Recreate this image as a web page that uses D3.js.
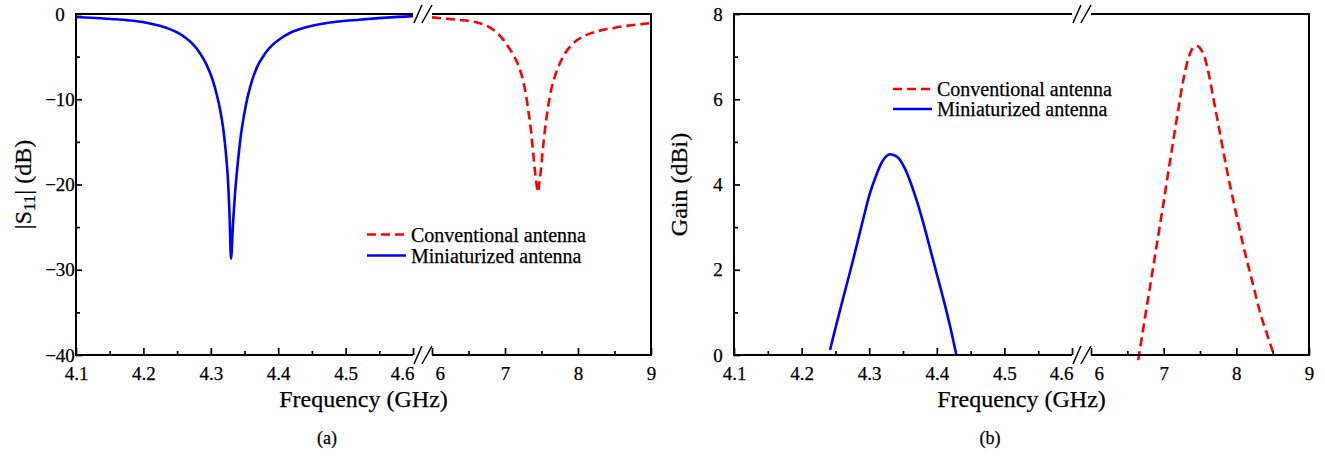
<!DOCTYPE html>
<html>
<head>
<meta charset="utf-8">
<script src="https://cdn.jsdelivr.net/npm/d3@7"></script>
<style>
  html, body { margin: 0; padding: 0; background: #fff; }
  svg { display: block; font-family: "Liberation Serif", "Times New Roman", serif; }
  text { fill: #000; stroke: #000; stroke-width: 0.25px; }
</style>
</head>
<body>
<svg id="chart" width="1325" height="457"></svg>
<script>
// ---------- Data ----------
// Panel (a): |S11| (dB)
const s11MiniFreq = [4.10, 4.136, 4.16, 4.185, 4.21, 4.235, 4.25, 4.262, 4.273, 4.284, 4.294, 4.303, 4.309, 4.314, 4.318, 4.321, 4.324, 4.326, 4.328, 4.330, 4.333, 4.336, 4.340, 4.344, 4.349, 4.355, 4.362, 4.370, 4.380, 4.390, 4.403, 4.418, 4.435, 4.452, 4.477, 4.50, 4.53, 4.56, 4.60];
const s11MiniVal  = [-0.35, -0.5, -0.62, -0.8, -1.12, -1.65, -2.15, -2.75, -3.5, -4.6, -6.0, -7.8, -9.5, -11.3, -13.2, -15.2, -17.8, -20.2, -24.0, -28.7, -24.5, -21.0, -17.5, -14.6, -12.0, -9.6, -7.6, -6.0, -4.7, -3.75, -2.9, -2.2, -1.7, -1.35, -1.0, -0.8, -0.6, -0.42, -0.25];

const s11ConvFreq = [6.0, 6.2, 6.38, 6.55, 6.66, 6.76, 6.84, 6.92, 6.97, 7.02, 7.08, 7.14, 7.2, 7.25, 7.29, 7.32, 7.35, 7.37, 7.39, 7.41, 7.43, 7.45, 7.47, 7.49, 7.51, 7.53, 7.56, 7.59, 7.63, 7.68, 7.74, 7.80, 7.88, 7.96, 8.06, 8.16, 8.3, 8.45, 8.58, 8.8, 9.0];
const s11ConvVal  = [-0.4, -0.55, -0.7, -0.88, -1.1, -1.42, -1.85, -2.45, -2.95, -3.55, -4.3, -5.2, -6.4, -7.9, -9.6, -11.4, -13.2, -14.9, -16.6, -18.4, -19.8, -20.9, -19.8, -18.4, -16.6, -14.9, -12.7, -10.9, -9.0, -7.4, -6.0, -4.95, -3.95, -3.25, -2.7, -2.3, -1.95, -1.7, -1.5, -1.25, -1.05];

// Panel (b): Gain (dBi)
const gainMiniFreq = [4.242, 4.252, 4.262, 4.272, 4.281, 4.291, 4.301, 4.31, 4.318, 4.325, 4.331, 4.336, 4.341, 4.346, 4.35, 4.355, 4.36, 4.37, 4.38, 4.39, 4.40, 4.41, 4.42, 4.429];
const gainMiniVal  = [0.12, 0.75, 1.37, 1.97, 2.54, 3.18, 3.79, 4.2, 4.5, 4.66, 4.71, 4.69, 4.65, 4.57, 4.46, 4.3, 4.1, 3.64, 3.1, 2.5, 1.9, 1.3, 0.65, 0.0];

const gainConvFreq = [6.65, 6.75, 6.857, 6.93, 6.995, 7.06, 7.13, 7.2, 7.27, 7.33, 7.385, 7.42, 7.455, 7.49, 7.53, 7.57, 7.62, 7.68, 7.77, 7.87, 7.98, 8.1, 8.22, 8.33, 8.42, 8.51];
const gainConvVal  = [-0.12, 0.95, 2.07, 2.85, 3.54, 4.25, 5.0, 5.75, 6.45, 6.9, 7.16, 7.23, 7.25, 7.22, 7.12, 6.95, 6.6, 6.06, 5.25, 4.34, 3.45, 2.54, 1.72, 0.98, 0.5, 0.04];

// Ticks
const xMajorLow  = [4.1, 4.2, 4.3, 4.4, 4.5, 4.6];
const xMinorLow  = [4.15, 4.25, 4.35, 4.45, 4.55];
const xMajorHigh = [6, 7, 8, 9];
const xMinorHigh = [6.5, 7.5, 8.5];
const yMajorS11  = [-40, -30, -20, -10, 0];
const yMinorS11  = [-35, -25, -15, -5];
const yMajorGain = [0, 2, 4, 6, 8];
const yMinorGain = [1, 3, 5, 7];

const seriesNames = ["Conventional antenna", "Miniaturized antenna"];
const seriesColors = ["#ff0000", "#0000ff"];

// ---------- Drawing ----------
const svg = d3.select("#chart");

function zip(a, b) { return a.map((v, i) => [v, b[i]]); }

function drawPanel(cfg) {
  const g = svg.append("g");
  const xL = d3.scaleLinear().domain([4.1, 4.6]).range([cfg.left, cfg.breakL]);
  const xR = d3.scaleLinear().domain([6, 9]).range([cfg.breakR, cfg.right]);
  const y = d3.scaleLinear().domain(cfg.yDomain).range([cfg.bottom, cfg.top]);

  // data lines
  const lineL = d3.line().curve(d3.curveMonotoneX).x(d => xL(d[0])).y(d => y(d[1]));
  const lineR = d3.line().curve(d3.curveMonotoneX).x(d => xR(d[0])).y(d => y(d[1]));
  g.append("path").datum(zip(cfg.convF, cfg.convV)).attr("d", lineR)
    .attr("fill", "none").attr("stroke", seriesColors[0]).attr("stroke-width", 2.6)
    .attr("stroke-dasharray", "9,5");
  g.append("path").datum(zip(cfg.miniF, cfg.miniV)).attr("d", lineL)
    .attr("fill", "none").attr("stroke", seriesColors[1]).attr("stroke-width", 2.6);

  // frame
  const fr = g.append("g").attr("stroke", "#000").attr("stroke-width", 2).attr("fill", "none");
  const xa = xL(4.6), xb = xR(6);
  fr.append("line").attr("x1", cfg.left).attr("x2", cfg.left).attr("y1", cfg.top - 1).attr("y2", cfg.bottom + 1);
  fr.append("line").attr("x1", cfg.right).attr("x2", cfg.right).attr("y1", cfg.top - 1).attr("y2", cfg.bottom + 1);
  [cfg.top, cfg.bottom].forEach(yy => {
    fr.append("line").attr("x1", cfg.left).attr("x2", xa).attr("y1", yy).attr("y2", yy);
    fr.append("line").attr("x1", xb).attr("x2", cfg.right).attr("y1", yy).attr("y2", yy);
    // break marks
    const w = (xb - xa);
    fr.append("line").attr("stroke-width", 1.5)
      .attr("x1", xa + 1).attr("y1", yy + 9).attr("x2", xa + w * 0.47).attr("y2", yy - 9);
    fr.append("line").attr("stroke-width", 1.5)
      .attr("x1", xa + w * 0.47).attr("y1", yy + 9).attr("x2", xb).attr("y2", yy - 9);
  });

  // x axes
  function xAxis(scale, major, minor) {
    const ga = g.append("g").attr("transform", `translate(0,${cfg.bottom})`)
      .call(d3.axisBottom(scale).tickValues(major).tickSize(-7).tickPadding(12)
        .tickFormat(d => Number.isInteger(d) && d >= 5 ? d3.format("d")(d) : d3.format(".1f")(d)));
    ga.select(".domain").remove();
    const gm = g.append("g").attr("transform", `translate(0,${cfg.bottom})`)
      .call(d3.axisBottom(scale).tickValues(minor).tickSize(-4).tickFormat(""));
    gm.select(".domain").remove();
    [ga, gm].forEach(s => s.selectAll(".tick line").attr("stroke-width", 1.7));
    ga.selectAll("text").attr("font-size", 19).attr("font-family", "Liberation Serif").attr("fill", "#000");
    return ga;
  }
  const axL = xAxis(xL, xMajorLow, xMinorLow);
  axL.selectAll(".tick").filter(d => d === 4.6).select("text").attr("text-anchor", "end").attr("x", 1);
  const axR = xAxis(xR, xMajorHigh, xMinorHigh);
  axR.selectAll(".tick").filter(d => d === 6).select("text").attr("text-anchor", "start").attr("x", 3);

  // y axis
  const gy = g.append("g").attr("transform", `translate(${cfg.left},0)`)
    .call(d3.axisLeft(y).tickValues(cfg.yMajor).tickSize(-6).tickPadding(16));
  gy.select(".domain").remove();
  gy.selectAll("text").attr("text-anchor", "middle").attr("font-size", 19)
    .attr("font-family", "Liberation Serif").attr("fill", "#000");
  const gym = g.append("g").attr("transform", `translate(${cfg.left},0)`)
    .call(d3.axisLeft(y).tickValues(cfg.yMinor).tickSize(-4).tickFormat(""));
  gym.select(".domain").remove();
  [gy, gym].forEach(s => s.selectAll(".tick line").attr("stroke-width", 1.7));

  // axis titles
  g.append("text").attr("x", (cfg.left + cfg.right) / 2).attr("y", 407)
    .attr("text-anchor", "middle").attr("font-size", 24).text("Frequency (GHz)");
  const yt = g.append("text")
    .attr("transform", `translate(${cfg.yTitleX},${(cfg.top + cfg.bottom) / 2}) rotate(-90)`)
    .attr("text-anchor", "middle").attr("font-size", 24);
  cfg.yTitle(yt);

  // caption
  g.append("text").attr("x", cfg.captionX).attr("y", 444).attr("text-anchor", "middle")
    .attr("font-size", 18).attr("stroke-width", 0).text(cfg.caption);

  // legend
  const lg = g.append("g");
  seriesNames.forEach((name, i) => {
    const ly = cfg.legendY + i * cfg.legendGap;
    lg.append("line").attr("x1", cfg.legendX).attr("x2", cfg.legendX + 39)
      .attr("y1", ly).attr("y2", ly).attr("stroke", seriesColors[i]).attr("stroke-width", 2.6)
      .attr("stroke-dasharray", i === 0 ? "9,5" : null);
    lg.append("text").attr("x", cfg.legendX + 44).attr("y", ly + 7)
      .attr("font-size", 20).attr("stroke-width", 0.4).text(name);
  });
}

drawPanel({
  left: 76, right: 651, breakL: 413, breakR: 432, top: 14, bottom: 355,
  yDomain: [-40, 0], yMajor: yMajorS11, yMinor: yMinorS11,
  convF: s11ConvFreq, convV: s11ConvVal, miniF: s11MiniFreq, miniV: s11MiniVal,
  yTitleX: 31,
  yTitle: t => {
    t.append("tspan").text("|S");
    t.append("tspan").attr("font-size", 17).attr("dy", 4).text("11");
    t.append("tspan").attr("dy", -4).text("| (dB)");
  },
  caption: "(a)", captionX: 327,
  legendX: 367, legendY: 234.5, legendGap: 21
});

drawPanel({
  left: 734, right: 1309, breakL: 1072, breakR: 1091, top: 14, bottom: 355,
  yDomain: [0, 8], yMajor: yMajorGain, yMinor: yMinorGain,
  convF: gainConvFreq, convV: gainConvVal, miniF: gainMiniFreq, miniV: gainMiniVal,
  yTitleX: 687,
  yTitle: t => t.text("Gain (dBi)"),
  caption: "(b)", captionX: 990,
  legendX: 893, legendY: 89, legendGap: 20
});
</script>
</body>
</html>
